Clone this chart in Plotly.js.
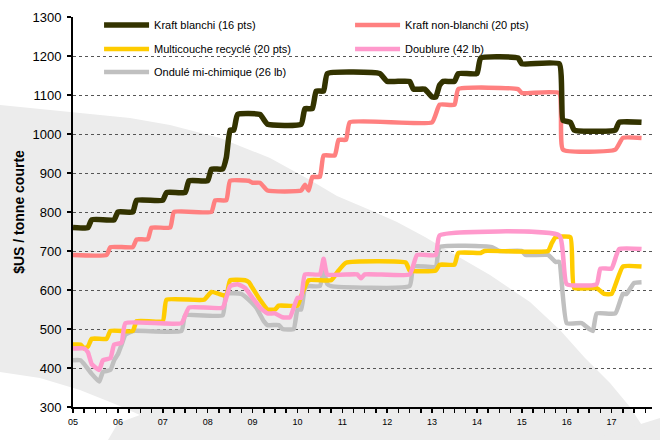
<!DOCTYPE html>
<html>
<head>
<meta charset="utf-8">
<script src="https://cdn.plot.ly/plotly-3.0.1.min.js"></script>
<style>
html,body{margin:0;padding:0;background:#fff;}
#wrap{position:relative;width:660px;height:440px;}
#bg{position:absolute;left:0;top:0;width:660px;height:440px;z-index:0;}
#chart{position:absolute;left:0;top:0;width:660px;height:440px;z-index:1;}
</style>
</head>
<body>
<div id="wrap">
<svg id="bg" width="660" height="440" xmlns="http://www.w3.org/2000/svg"></svg>
<div id="chart"></div>
</div>
<script>
// Month index: 0 = January 2005
const yearLabels = ['05','06','07','08','09','10','11','12','13','14','15','16','17'];
const yearTickMonths = [0,12,24,36,48,60,72,84,96,108,120,132,144];

const names = [
  'Kraft blanchi (16 pts)',
  'Kraft non-blanchi (20 pts)',
  'Multicouche recyclé (20 pts)',
  'Doublure (42 lb)',
  'Ondulé mi-chimique (26 lb)'
];

const kraftBlanchiX = [0,4,5,11,12,16,17,24,25,30,31,36,37,40,41,42,43,44,50,52,61,62,64,65,67,68,82,84,90,91,94,96,97,98,99,102,103,108,109,119,120,130,131,133,134,145,146,152];
const kraftBlanchiY = [760,760,780,780,800,800,830,830,850,850,880,880,910,910,940,1010,1010,1050,1050,1025,1025,1065,1065,1110,1110,1155,1155,1135,1135,1115,1115,1095,1095,1125,1135,1135,1155,1155,1195,1195,1180,1180,1035,1030,1010,1010,1030,1030];

const kraftNonBlanchiX = [0,9,10,16,17,20,21,26,27,37,38,41,42,47,48,50,52,61,62,63,64,66,67,70,71,73,74,96,98,102,103,119,120,130,131,145,147,152];
const kraftNonBlanchiY = [690,690,710,710,730,730,760,760,800,800,830,830,880,880,875,875,855,855,870,855,890,890,945,945,985,985,1030,1030,1075,1075,1115,1115,1105,1105,960,960,990,990];

const multicoucheX = [0,2,3,4,5,9,10,16,17,24,25,35,37,39,41,42,46,47,48,50,52,54,55,60,61,63,69,71,73,89,90,97,98,102,103,109,110,127,128,129,133,134,140,142,144,147,152];
const multicoucheY = [460,460,450,455,475,475,495,495,520,520,575,575,595,590,585,625,625,620,605,575,550,550,560,560,585,625,625,650,670,670,650,650,665,665,695,695,700,700,720,735,735,605,605,590,590,660,660];

const doublureX = [0,3,4,5,7,8,10,11,13,14,29,31,40,42,44,46,48,50,52,54,56,58,60,61,62,66,67,68,76,77,78,90,92,97,98,130,132,140,141,144,146,152];
const doublureY = [450,450,440,410,395,420,425,460,465,515,515,555,555,610,615,605,580,555,540,540,530,530,580,580,640,640,680,640,640,630,640,640,690,690,740,740,615,615,655,655,705,705];

const onduleX = [0,2,3,5,7,8,10,11,12,13,14,16,29,30,40,41,45,47,49,51,52,55,56,59,60,61,62,63,66,67,68,69,90,91,97,98,112,114,120,121,127,129,130,132,136,138,139,140,145,147,148,150,152];
const onduleY = [420,420,410,385,365,390,395,420,435,460,485,495,495,535,535,590,590,575,555,520,510,510,500,500,550,550,605,610,610,650,615,610,610,660,660,710,710,700,700,690,690,672,672,515,515,500,495,540,540,590,590,618,620];

const colors = ['#333300','#FF8080','#FFCC00','#FF99CC','#C0C0C0'];
const widths = [5.5,4.5,4.5,4.5,4.5];
const legendIds = ['legend','legend','legend2','legend2','legend3'];

const seriesX = [kraftBlanchiX, kraftNonBlanchiX, multicoucheX, doublureX, onduleX];
const seriesY = [kraftBlanchiY, kraftNonBlanchiY, multicoucheY, doublureY, onduleY];

const drawOrder = [4,2,3,1,0];
const traces = drawOrder.map(i => ({
  type: 'scatter', mode: 'lines',
  x: seriesX[i], y: seriesY[i], name: names[i],
  legend: legendIds[i], legendrank: i,
  line: {color: colors[i], width: widths[i], shape: 'spline', smoothing: 0.4},
  hoverinfo: 'skip'
}));

// decorative watermark behind the chart (page pixels)
const grayArc = [[0,105],[70,112],[130,118],[170,125],[220,138],[270,158],[310,180],[337,196],[370,210],[397,222],[425,237],[452,253],[490,275],[530,302],[560,330],[585,358],[610,383],[630,407],[645,430],[652,440],[0,440]];
const whiteSwoosh = [[0,372],[40,378],[80,390],[115,404],[140,415],[118,423],[108,440],[0,440]];
const grayWedge = [[590,440],[660,418],[660,440]];
function svgPoly(pts, fill){
  return '<path d="M' + pts.map(p => p[0] + ',' + p[1]).join('L') + 'Z" fill="' + fill + '"/>';
}
document.getElementById('bg').innerHTML =
  svgPoly(grayArc, '#ECECEC') + svgPoly(whiteSwoosh, '#FFFFFF') + svgPoly(grayWedge, '#ECECEC');

const legendBase = {
  orientation: 'h', xanchor: 'left', yanchor: 'middle', x: 0.045,
  bgcolor: 'rgba(0,0,0,0)', borderwidth: 0,
  font: {family: 'Liberation Sans, Arial, sans-serif', size: 11, color: '#000'},
  itemwidth: 45,
  entrywidth: 191, entrywidthmode: 'pixels', traceorder: 'normal', itemclick: false
};

const layout = {
  width: 660, height: 440,
  margin: {l: 73, r: 8, t: 17, b: 33, pad: 0},
  paper_bgcolor: 'rgba(0,0,0,0)', plot_bgcolor: 'rgba(0,0,0,0)',
  font: {family: 'Liberation Sans, Arial, sans-serif', color: '#000'},
  showlegend: true,
  legend: Object.assign({}, legendBase, {y: (407-25)/390}),
  legend2: Object.assign({}, legendBase, {y: (407-49)/390}),
  legend3: Object.assign({}, legendBase, {y: (407-72)/390}),
  xaxis: {
    range: [0, 154.8], tickmode: 'array', tickvals: yearTickMonths, ticktext: yearLabels,
    ticks: 'outside', ticklen: 4, tickwidth: 1.5, tickcolor: '#000',
    showline: true, linecolor: '#000', linewidth: 2, showgrid: false, zeroline: false,
    tickfont: {size: 9, color: '#000'}, ticklabelstandoff: 1,
    minor: {tickmode: 'linear', tick0: 0, dtick: 3, ticks: 'outside', ticklen: 4, tickwidth: 1.5, tickcolor: '#000', showgrid: false},
    fixedrange: true
  },
  yaxis: {
    range: [300, 1300], tickmode: 'linear', tick0: 300, dtick: 100,
    ticks: 'outside', ticklen: 4, tickwidth: 1.5, tickcolor: '#000',
    showline: true, linecolor: '#000', linewidth: 2,
    showgrid: true, gridcolor: '#555', griddash: 'dot', gridwidth: 1, zeroline: false,
    tickfont: {size: 13, color: '#000'}, ticklabelstandoff: 3,
    title: {text: '$US / tonne courte', font: {size: 14, weight: 'bold', color: '#000'}, standoff: 5},
    fixedrange: true
  }
};

Plotly.newPlot('chart', traces, layout, {staticPlot: true, displayModeBar: false});
</script>
</body>
</html>
